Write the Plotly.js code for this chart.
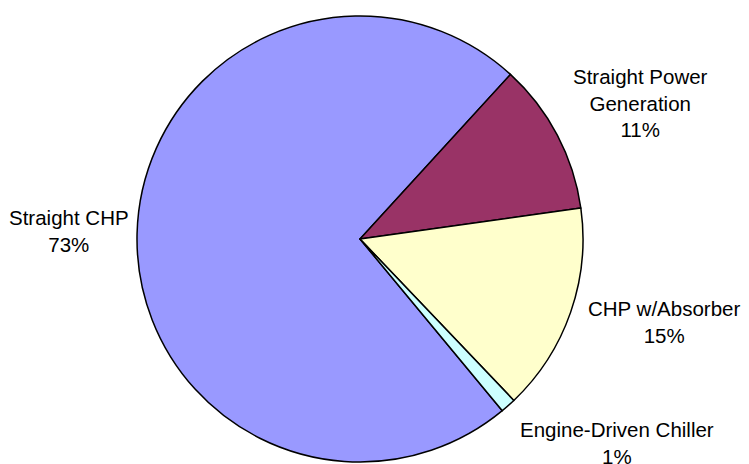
<!DOCTYPE html>
<html>
<head>
<meta charset="utf-8">
<script src="https://cdn.plot.ly/plotly-3.0.1.min.js"></script>
<style>html,body{margin:0;padding:0;background:#fff;}#chart{width:749px;height:464px;}</style>
</head>
<body>
<div id="chart"></div>
<script>
// Data
var categories = ["Straight CHP", "Straight Power Generation", "CHP w/Absorber", "Engine-Driven Chiller"];
var labelText = ["Straight CHP", "Straight Power<br>Generation", "CHP w/Absorber", "Engine-Driven Chiller"];
var shares = [72.8, 11.0, 15.1, 1.1];
var sliceColors = ["#9999FF", "#993366", "#FFFFCC", "#CCFFFF"];

// label positions (pixel centers in the 749x464 picture)
var labelPos = [[69, 231], [640, 103], [664, 322], [617, 443]];

var W = 749, H = 464;
var total = shares.reduce(function(a, b){ return a + b; }, 0);

var annotations = categories.map(function(c, i){
  return {
    xref: 'paper', yref: 'paper',
    x: labelPos[i][0] / W, y: 1 - labelPos[i][1] / H,
    xanchor: 'center', yanchor: 'middle',
    showarrow: false, align: 'center',
    text: labelText[i] + '<br>' + Math.round(shares[i] / total * 100) + '%',
    font: {family: 'Liberation Sans, Arial, sans-serif', size: 20.5, color: '#000'}
  };
});

var cx = 360, cy = 239, r = 223;
var trace = {
  type: 'pie',
  labels: categories,
  values: shares,
  sort: false,
  direction: 'clockwise',
  rotation: 140.35,
  textinfo: 'none',
  hoverinfo: 'label+percent',
  marker: {colors: sliceColors, line: {color: '#000', width: 1.5}},
  domain: {x: [(cx - r) / W, (cx + r) / W], y: [(H - cy - r) / H, (H - cy + r) / H]},
  showlegend: false
};

var layout = {
  width: W, height: H,
  margin: {l: 0, r: 0, t: 0, b: 0},
  paper_bgcolor: '#fff',
  showlegend: false,
  annotations: annotations
};

Plotly.newPlot('chart', [trace], layout, {displayModeBar: false, staticPlot: true});
</script>
</body>
</html>
